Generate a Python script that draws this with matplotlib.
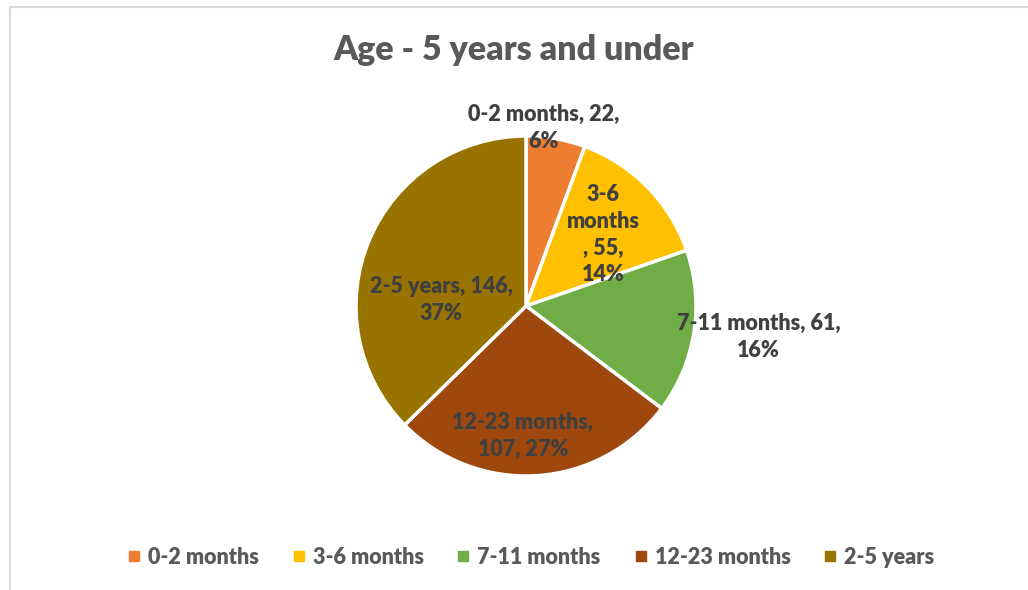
import numpy as np
import matplotlib.pyplot as plt
from matplotlib.patches import Rectangle

# data
categories = ['0-2 months', '3-6 months', '7-11 months', '12-23 months', '2-5 years']
counts = [22, 55, 61, 107, 146]
label_text = ['0-2 months, 22,\n6%', '3-6\nmonths\n, 55,\n14%', '7-11 months, 61,\n16%',
              '12-23 months,\n107, 27%', '2-5 years, 146,\n37%']
colors = ['#ED7D31', '#FFC000', '#70AD47', '#9E480E', '#997300']

# label placement (distance from centre, angle nudge in degrees)
label_dist = [1.05, 0.62, 1.38, 0.765, 0.5]
label_nudge = [4.6, -1.7, 1.4, -5.0, 18.8]

plt.rcParams['font.family'] = ['Lato', 'DejaVu Sans']

W, H = 1028, 590
fig = plt.figure(figsize=(W / 100, H / 100), dpi=100)

# chart frame
fig.patches.append(Rectangle((10 / W, -0.05), 1.1, 1 - 7 / H + 0.05, transform=fig.transFigure,
                             fill=False, edgecolor='#D9D9D9', linewidth=1.5))

cx, cy, r = 526, 306, 170
ax = fig.add_axes([(cx - r) / W, (H - cy - r) / H, 2 * r / W, 2 * r / H])
wedges, _ = ax.pie(counts, colors=colors, startangle=90, counterclock=False, radius=1,
                   wedgeprops=dict(edgecolor='white', linewidth=2.5))
ax.set_xlim(-1, 1)
ax.set_ylim(-1, 1)
ax.set_aspect('equal')
ax.axis('off')

for w, txt, d, nd in zip(wedges, label_text, label_dist, label_nudge):
    ang = np.deg2rad((w.theta1 + w.theta2) / 2 + nd)
    ax.text(d * np.cos(ang), d * np.sin(ang), txt, ha='center', va='center',
            fontsize=15.5, fontweight='heavy', color='#404040', linespacing=1.35, clip_on=False)

fig.text(0.5, 1 - 50 / H, 'Age - 5 years and under', ha='center', va='center',
         fontsize=24.5, fontweight='heavy', color='#595959')

handles = [plt.Line2D([], [], marker='s', linestyle='none', markersize=7,
                      markerfacecolor=c, markeredgecolor=c) for c in colors]
fig.legend(handles, categories, loc='center', bbox_to_anchor=(0.517, 1 - 557 / H), ncol=5,
           frameon=False, handlelength=0.5, handletextpad=0.4, columnspacing=1.6,
           prop=dict(size=15.5, weight='heavy'), labelcolor='#595959')

fig.savefig('out.png', dpi=100)
